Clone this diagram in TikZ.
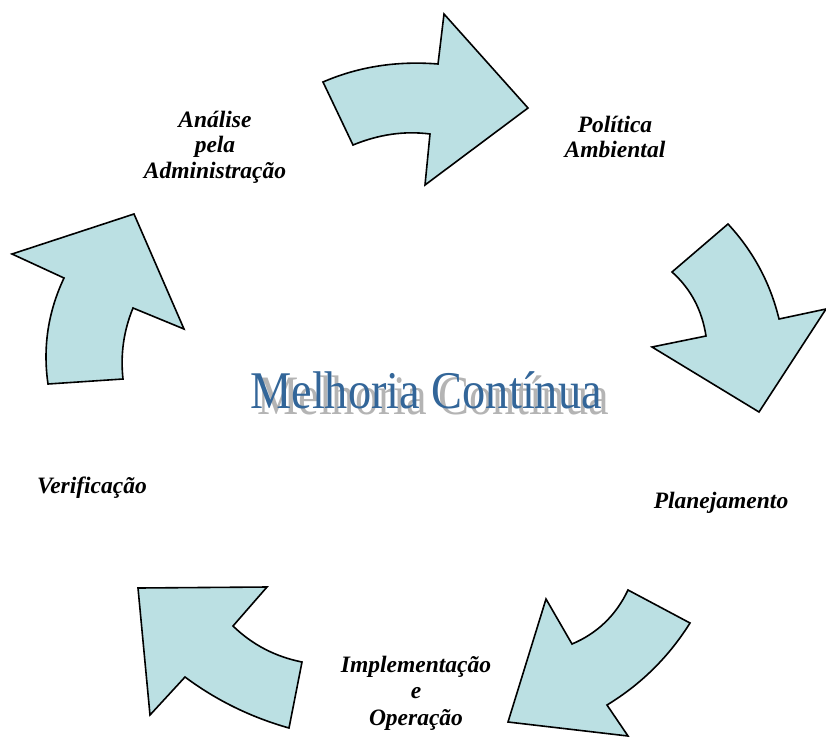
\documentclass[tikz,border=0pt]{standalone}
\usepackage{fontspec}
\usepackage{graphicx}
\setmainfont{Liberation Serif}
\definecolor{arrowfill}{RGB}{187,224,227}
\definecolor{wordblue}{RGB}{51,102,153}
\definecolor{shadowgray}{RGB}{180,180,180}
\tikzset{
  bigarrow/.style={draw=black, fill=arrowfill, line width=1.6pt, line join=miter},
  lbl/.style={font=\bfseries\itshape\fontsize{23.5}{26}\selectfont, anchor=base, inner sep=0pt}
}
\begin{document}
\begin{tikzpicture}[x=1pt,y=-1pt]
\useasboundingbox (0,0) rectangle (826,747);
% arrow 1 (top)
\draw[bigarrow] (323,82) -- (353,145) .. controls (379,134.3) and (404.7,130.7) .. (430,134) -- (425,185) -- (528,108) -- (444,14) -- (438,64) .. controls (396.7,60.7) and (358.3,66.7) .. (323,82) -- cycle;
% arrow 2 (right)
\draw[bigarrow] (728,224) -- (672,272) .. controls (690.7,288.7) and (702,310) .. (706,336) -- (652,347) -- (759,412) -- (826,309) -- (779,319) .. controls (770.3,283) and (753.3,251.3) .. (728,224) -- cycle;
% arrow 3 (bottom right)
\draw[bigarrow] (628,590) -- (690,623) .. controls (668.7,657) and (641,684.3) .. (607,705) -- (628,736) -- (508,722) -- (546,599) -- (572,644) .. controls (597.3,633.3) and (616,615.3) .. (628,590) -- cycle;
% arrow 4 (bottom left)
\draw[bigarrow] (138,588) -- (267,587) -- (233,626) .. controls (252.3,644.7) and (275.3,656.7) .. (302,662) -- (289,728) .. controls (251,717.3) and (216.3,700.3) .. (185,677) -- (150,715) -- cycle;
% arrow 5 (left)
\draw[bigarrow] (12,254) -- (134,214) -- (184,329) -- (133,308) .. controls (123.7,330.7) and (120.3,354.3) .. (123,379) -- (48,384) .. controls (42.7,347.3) and (48,312) .. (64,278) -- cycle;
% labels
\node[lbl] (ana1) at (215,127) {Análise};
\node[lbl] (ana2) at (215,152) {pela};
\node[lbl] (ana3) at (215,178) {Administração};
\node[lbl] (pol1) at (615,132) {Política};
\node[lbl] (pol2) at (615,157) {Ambiental};
\node[lbl] (pla) at (721,508) {Planejamento};
\node[lbl] (imp1) at (416,672) {Implementação};
\node[lbl] (imp2) at (416,698) {e};
\node[lbl] (imp3) at (416,725) {Operação};
\node[lbl] (ver) at (92,493) {Verificação};
% center title
\node[anchor=base, inner sep=0pt, text=shadowgray, font=\fontsize{53}{60}\selectfont] (shadow) at (433,414) {\scalebox{0.875}[1.05]{Melhoria Contínua}};
\node[anchor=base, inner sep=0pt, text=wordblue, font=\fontsize{53}{60}\selectfont] (title) at (426,408) {\scalebox{0.875}[1]{Melhoria Contínua}};
\end{tikzpicture}
\end{document}
